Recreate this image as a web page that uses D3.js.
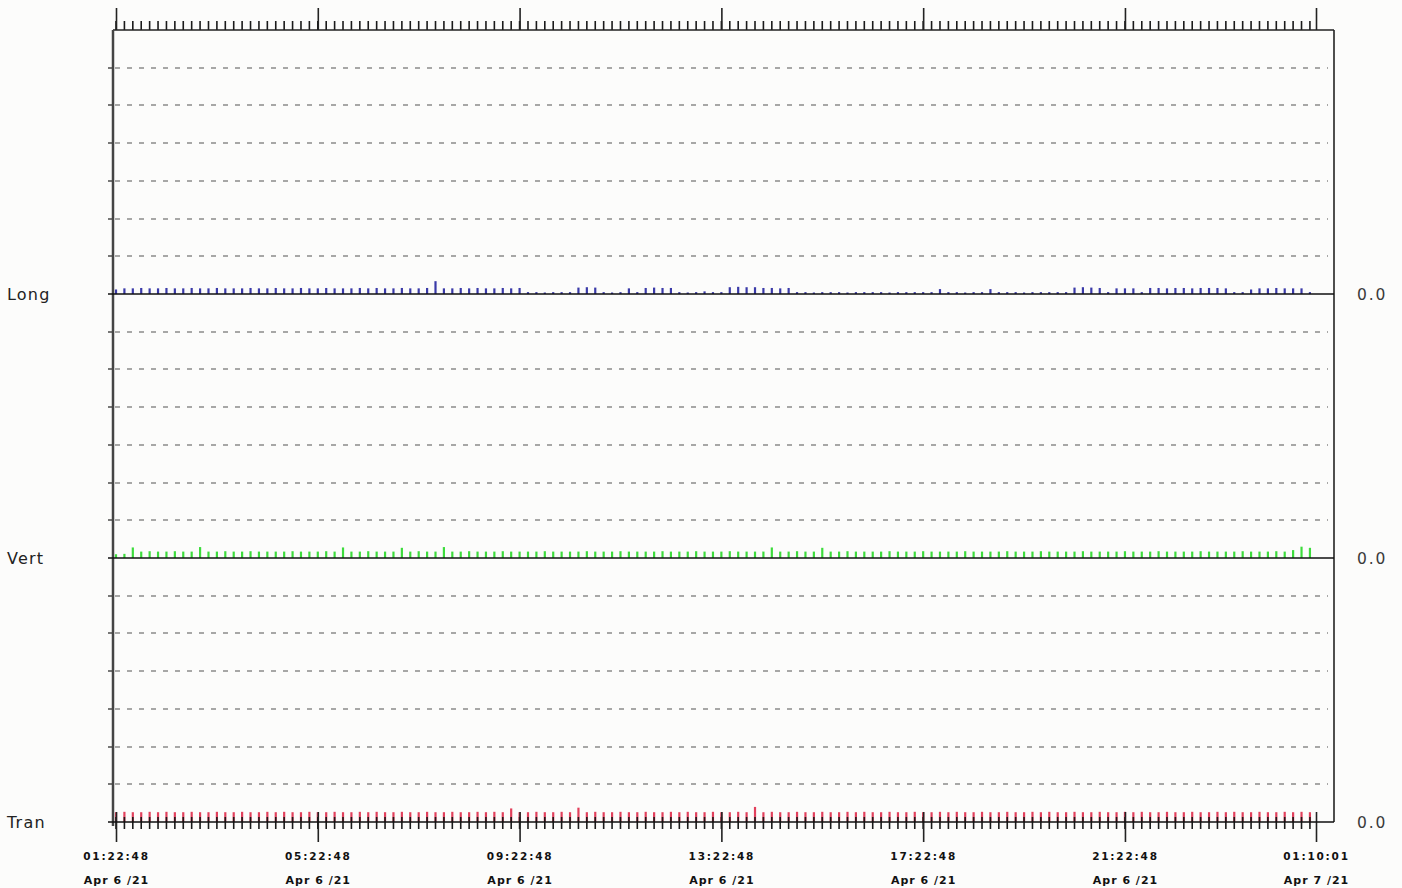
<!DOCTYPE html>
<html>
<head>
<meta charset="utf-8">
<script src="https://cdn.jsdelivr.net/npm/d3@7"></script>
<style>
  html, body { margin: 0; padding: 0; background: #fcfcfb; }
  svg { display: block; }
</style>
</head>
<body>
<svg id="chart" width="1402" height="888"></svg>
<script>
// Three seismic channels, one reading every 10 minutes
const channels = ["Long", "Vert", "Tran"];
const channelColors = ["#3a3aa8", "#3ddc3d", "#e2405c"];
const startTime = "2021-04-06 01:22:48";
const endTime = "2021-04-07 01:10:01";
const sampleMinutes = 10;

const longValues = [
  0.12,0.15,0.15,0.16,0.15,0.15,0.16,0.15,0.15,0.16,
  0.15,0.15,0.16,0.15,0.15,0.15,0.16,0.15,0.15,0.16,
  0.15,0.15,0.16,0.15,0.15,0.16,0.15,0.15,0.15,0.16,
  0.15,0.16,0.15,0.15,0.16,0.15,0.15,0.16,0.34,0.15,
  0.15,0.16,0.15,0.16,0.15,0.15,0.16,0.15,0.16,0.05,
  0.05,0.04,0.05,0.05,0.05,0.17,0.18,0.17,0.05,0.04,
  0.05,0.15,0.05,0.16,0.17,0.16,0.16,0.05,0.04,0.05,
  0.07,0.05,0.05,0.18,0.19,0.18,0.18,0.16,0.16,0.15,
  0.16,0.05,0.05,0.04,0.05,0.05,0.05,0.04,0.05,0.05,
  0.05,0.05,0.04,0.05,0.05,0.05,0.05,0.05,0.13,0.05,
  0.05,0.04,0.05,0.05,0.13,0.05,0.05,0.05,0.04,0.05,
  0.05,0.05,0.05,0.05,0.17,0.18,0.17,0.16,0.05,0.15,
  0.15,0.15,0.05,0.16,0.16,0.15,0.16,0.16,0.15,0.16,
  0.16,0.16,0.15,0.05,0.05,0.12,0.15,0.15,0.16,0.15,
  0.15,0.15,0.05
];

const vertValues = [
  0.10,0.11,0.28,0.17,0.18,0.17,0.17,0.18,0.17,0.17,
  0.29,0.17,0.17,0.18,0.17,0.17,0.18,0.17,0.17,0.17,
  0.17,0.18,0.17,0.17,0.17,0.18,0.17,0.28,0.17,0.17,
  0.18,0.17,0.17,0.17,0.27,0.17,0.18,0.17,0.17,0.29,
  0.17,0.17,0.18,0.17,0.17,0.17,0.18,0.17,0.17,0.17,
  0.17,0.18,0.17,0.17,0.17,0.17,0.18,0.17,0.17,0.17,
  0.18,0.17,0.17,0.17,0.17,0.18,0.17,0.17,0.17,0.18,
  0.17,0.17,0.17,0.18,0.17,0.17,0.17,0.17,0.28,0.17,
  0.17,0.18,0.17,0.17,0.27,0.17,0.17,0.18,0.17,0.17,
  0.17,0.17,0.18,0.17,0.17,0.17,0.18,0.17,0.17,0.17,
  0.17,0.18,0.17,0.17,0.17,0.17,0.18,0.17,0.17,0.17,
  0.18,0.17,0.17,0.17,0.17,0.18,0.17,0.17,0.17,0.17,
  0.18,0.17,0.17,0.17,0.18,0.17,0.17,0.17,0.17,0.18,
  0.17,0.17,0.17,0.17,0.18,0.17,0.17,0.17,0.18,0.17,
  0.21,0.30,0.27
];

const tranValues = [
  0.26,0.27,0.26,0.26,0.27,0.26,0.27,0.26,0.26,0.27,
  0.26,0.26,0.27,0.26,0.26,0.27,0.26,0.26,0.27,0.26,
  0.27,0.26,0.26,0.27,0.26,0.26,0.27,0.26,0.26,0.27,
  0.26,0.27,0.26,0.26,0.27,0.26,0.26,0.27,0.26,0.26,
  0.27,0.26,0.26,0.27,0.26,0.27,0.26,0.36,0.26,0.26,
  0.27,0.26,0.26,0.27,0.26,0.38,0.26,0.27,0.26,0.26,
  0.27,0.26,0.26,0.27,0.26,0.26,0.27,0.26,0.27,0.26,
  0.26,0.27,0.26,0.26,0.27,0.26,0.40,0.26,0.27,0.26,
  0.26,0.27,0.26,0.26,0.27,0.26,0.26,0.27,0.26,0.27,
  0.26,0.26,0.27,0.26,0.26,0.27,0.26,0.26,0.27,0.26,
  0.27,0.26,0.26,0.27,0.26,0.26,0.27,0.26,0.26,0.27,
  0.26,0.27,0.26,0.26,0.27,0.26,0.26,0.27,0.26,0.26,
  0.27,0.26,0.27,0.26,0.26,0.27,0.26,0.26,0.27,0.26,
  0.26,0.27,0.26,0.27,0.26,0.26,0.27,0.26,0.26,0.27,
  0.26,0.27,0.26
];

// Time axis labels
const majorTickTimes = [
  "2021-04-06 01:22:48", "2021-04-06 05:22:48", "2021-04-06 09:22:48",
  "2021-04-06 13:22:48", "2021-04-06 17:22:48", "2021-04-06 21:22:48",
  "2021-04-07 01:10:01"
];
const timeLabels = ["01:22:48", "05:22:48", "09:22:48", "13:22:48", "17:22:48", "21:22:48", "01:10:01"];
const dateLabels = ["Apr 6 /21", "Apr 6 /21", "Apr 6 /21", "Apr 6 /21", "Apr 6 /21", "Apr 6 /21", "Apr 7 /21"];

// Amplitude: each channel has 7 grid steps above its zero line
const ampMax = 7;
const gridStep = 1;

const seriesValues = [longValues, vertValues, tranValues];

const parse = d3.timeParse("%Y-%m-%d %H:%M:%S");
const t0 = parse(startTime), t1 = parse(endTime);

const frame = { left: 113, right: 1334, top: 30, bottom: 822 };
const svg = d3.select("#chart");

const x = d3.scaleTime().domain([t0, t1]).range([116, 1316]);
const rows = d3.scaleLinear().domain([0, channels.length]).range([frame.top, frame.bottom]);

// sample timestamps
const sampleTimes = longValues.map((_, i) => d3.timeMinute.offset(t0, i * sampleMinutes));
const minorTicks = sampleTimes;

// dashed grid lines
channels.forEach((name, c) => {
  const y = d3.scaleLinear().domain([0, ampMax]).range([rows(c + 1), rows(c)]);
  const grid = d3.range(gridStep, ampMax, gridStep);
  svg.append("g").selectAll("line").data(grid).join("line")
    .attr("x1", frame.left + 2).attr("x2", frame.right - 6)
    .attr("y1", d => Math.round(y(d))).attr("y2", d => Math.round(y(d)))
    .attr("stroke", "#8a8a8a").attr("stroke-width", 1.6)
    .attr("stroke-dasharray", "5,7");
  svg.append("g").selectAll("line").data(grid).join("line")
    .attr("x1", frame.left - 5).attr("x2", frame.left)
    .attr("y1", d => Math.round(y(d))).attr("y2", d => Math.round(y(d)))
    .attr("stroke", "#555").attr("stroke-width", 1.6);
});

// spikes per channel
channels.forEach((name, c) => {
  const y = d3.scaleLinear().domain([0, ampMax]).range([rows(c + 1), rows(c)]);
  svg.append("g").attr("class", "trace-" + name)
    .selectAll("line").data(seriesValues[c]).join("line")
    .attr("x1", (d, i) => x(sampleTimes[i])).attr("x2", (d, i) => x(sampleTimes[i]))
    .attr("y1", y(0)).attr("y2", d => y(d))
    .attr("stroke", channelColors[c]).attr("stroke-width", 2.2);
});

// bottom time axis: minor ticks every 10 min across the zero line
svg.append("g").selectAll("line").data(minorTicks).join("line")
  .attr("x1", d => x(d)).attr("x2", d => x(d))
  .attr("y1", frame.bottom - 5).attr("y2", frame.bottom + 7)
  .attr("stroke", "#1a1a1a").attr("stroke-width", 1.6);

const majors = majorTickTimes.map(parse);
const axisB = d3.axisBottom(x).tickValues(majors).tickSize(20).tickFormat("");
const gB = svg.append("g").attr("transform", `translate(0,${frame.bottom})`).call(axisB);
gB.select(".domain").remove();
gB.selectAll(".tick line").attr("stroke", "#222").attr("stroke-width", 1.6).attr("y1", -10);
gB.selectAll(".tick").each(function (d, i) {
  const g = d3.select(this);
  g.append("text").attr("y", 38).attr("text-anchor", "middle")
    .attr("font-family", "DejaVu Sans, sans-serif").attr("font-weight", "bold")
    .attr("font-size", 10.5).attr("letter-spacing", 1.8).attr("fill", "#111")
    .text(timeLabels[i]);
  g.append("text").attr("y", 62).attr("text-anchor", "middle")
    .attr("font-family", "DejaVu Sans, sans-serif").attr("font-weight", "bold")
    .attr("font-size", 11).attr("letter-spacing", 1.0).attr("fill", "#111")
    .text(dateLabels[i]);
});

// top time axis
svg.append("g").selectAll("line").data(minorTicks).join("line")
  .attr("x1", d => x(d)).attr("x2", d => x(d))
  .attr("y1", frame.top).attr("y2", frame.top - 9)
  .attr("stroke", "#1a1a1a").attr("stroke-width", 1.6);
const axisT = d3.axisTop(x).tickValues(majors).tickSize(22).tickFormat("");
const gT = svg.append("g").attr("transform", `translate(0,${frame.top})`).call(axisT);
gT.select(".domain").remove();
gT.selectAll(".tick line").attr("stroke", "#222").attr("stroke-width", 1.6);

// frame
svg.append("line").attr("x1", frame.left).attr("x2", frame.right)
  .attr("y1", frame.top).attr("y2", frame.top).attr("stroke", "#222").attr("stroke-width", 1.6);
svg.append("line").attr("x1", frame.left).attr("x2", frame.left)
  .attr("y1", frame.top).attr("y2", frame.bottom + 4).attr("stroke", "#444").attr("stroke-width", 2.5);
svg.append("line").attr("x1", frame.right).attr("x2", frame.right)
  .attr("y1", frame.top).attr("y2", frame.bottom).attr("stroke", "#222").attr("stroke-width", 1.6);

// zero lines and labels
channels.forEach((name, c) => {
  const y0 = Math.round(rows(c + 1));
  svg.append("line").attr("x1", frame.left - 5).attr("x2", frame.right)
    .attr("y1", y0).attr("y2", y0).attr("stroke", "#111").attr("stroke-width", 1.7);
  svg.append("text").attr("x", 7).attr("y", y0).attr("dy", "0.36em")
    .attr("font-family", "DejaVu Sans, sans-serif").attr("font-size", 16)
    .attr("letter-spacing", 1.2).attr("fill", "#222").text(name);
  svg.append("text").attr("x", 1357).attr("y", y0).attr("dy", "0.36em")
    .attr("font-family", "DejaVu Sans, sans-serif").attr("font-size", 15.5)
    .attr("letter-spacing", 1.8)
    .attr("fill", "#3a3a3a").text(d3.format(".1f")(0));
});
</script>
</body>
</html>
